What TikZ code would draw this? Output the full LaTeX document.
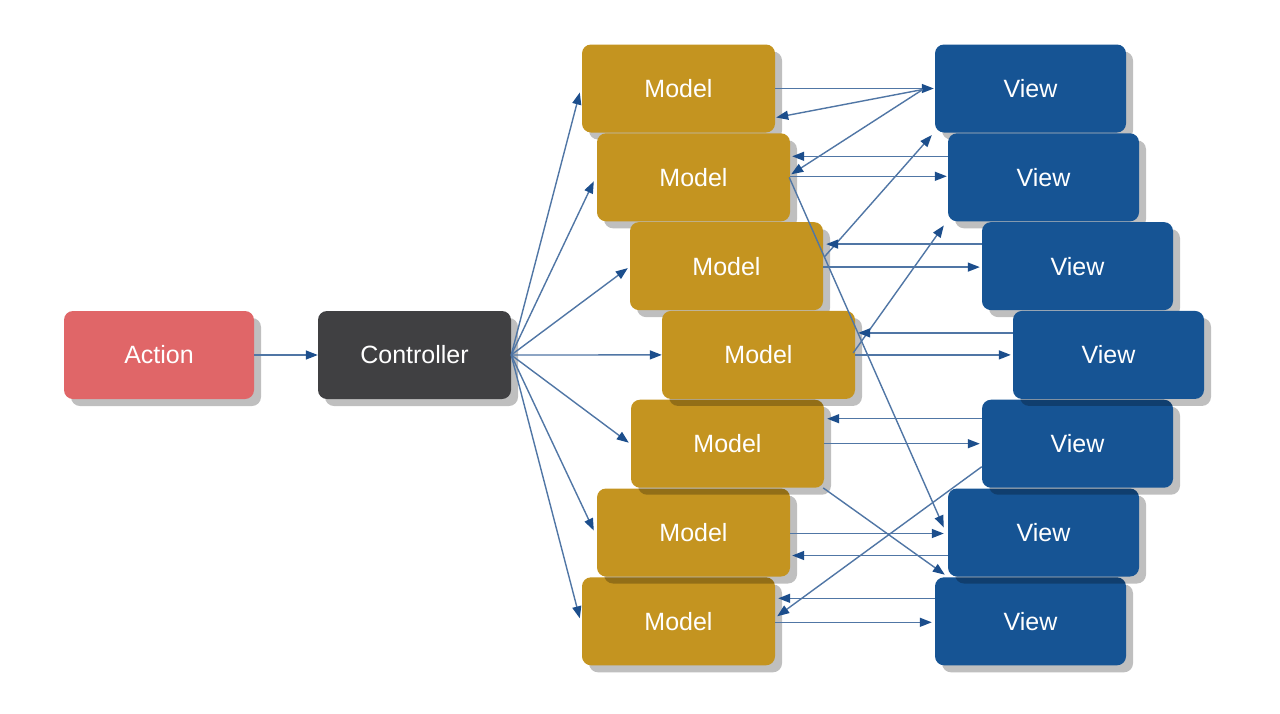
\documentclass[tikz,border=0pt]{standalone}
\usepackage{fontspec}
\setmainfont{Liberation Sans}
\usetikzlibrary{arrows.meta,shadows,calc}
\definecolor{actioncol}{RGB}{224,102,104}
\definecolor{ctrlcol}{RGB}{64,64,66}
\definecolor{modelcol}{RGB}{196,148,32}
\definecolor{viewcol}{RGB}{22,84,148}
\definecolor{linecol}{RGB}{80,118,165}
\definecolor{tipcol}{RGB}{28,78,140}
\begin{document}
\begin{tikzpicture}[x=1pt,y=-1pt,
  box/.style={rectangle, rounded corners=9pt, minimum width=193pt, minimum height=88pt,
    inner sep=0pt, text=white, font=\fontsize{25}{30}\selectfont,
    drop shadow={shadow xshift=7pt, shadow yshift=-7pt, fill=black, opacity=0.25}},
  actionbox/.style={box, fill=actioncol, minimum width=190pt},
  ctrlbox/.style={box, fill=ctrlcol},
  modelbox/.style={box, fill=modelcol},
  viewbox/.style={box, fill=viewcol, minimum width=191pt},
  conn/.style={draw=linecol, line width=1.4pt,
    -{Triangle[length=12pt,width=9pt,color=tipcol]}}
]
\useasboundingbox[fill=white] (0,0) rectangle (1280,713);

% left boxes
\node[actionbox] (A) at (159,355) {Action};
\node[ctrlbox] (C) at (414.5,355) {Controller};

% models (drawing order gives the overlapping shadows)
\node[modelbox] (M1) at (678.5,88.5) {Model};
\node[modelbox] (M2) at (693.5,177.3) {Model};
\node[modelbox] (M3) at (726.5,266.1) {Model};
\node[modelbox] (M7) at (678.5,621.3) {Model};
\node[modelbox] (M6) at (693.5,532.5) {Model};
\node[modelbox] (M5) at (727.5,443.7) {Model};
\node[modelbox] (M4) at (758.5,354.9) {Model};

% views
\node[viewbox] (V1) at (1030.5,88.5) {View};
\node[viewbox] (V2) at (1043.5,177.3) {View};
\node[viewbox] (V3) at (1077.5,266.1) {View};
\node[viewbox] (V7) at (1030.5,621.3) {View};
\node[viewbox] (V6) at (1043.5,532.5) {View};
\node[viewbox] (V5) at (1077.5,443.7) {View};
\node[viewbox] (V4) at (1108.5,354.9) {View};

% action -> controller
\draw[conn] (A.east) -- (C.west);

% controller fan
\draw[conn] (C.east) -- ($(M1.west)+(-2,4)$);
\draw[conn] (C.east) -- ($(M2.west)+(-3,4)$);
\draw[conn] (C.east) -- ($(M3.west)+(-2,2)$);
\draw[conn] (C.east) -- (M4.west);
\draw[conn] (C.east) -- ($(M5.west)+(-2,-1)$);
\draw[conn] (C.east) -- ($(M6.west)+(-3,-2)$);
\draw[conn] (C.east) -- ($(M7.west)+(-2,-3)$);

% row 1
\coordinate (v1p) at ($(V1.west)+(-12,0)$);
\draw[conn] (M1.east) -- ($(V1.west)+(-1,0)$);
\draw[conn] ($(v1p)+(0,1)$) -- ($(M1.east)+(1,29)$);
\draw[conn] ($(v1p)+(0,1)$) -- ($(M2.east)+(1,-3)$);

% row 2
\draw[conn] ($(V2.west)+(0,-21)$) -- ($(M2.east)+(2,-21)$);
\draw[conn] ($(M2.east)+(0,-1)$) -- ($(V2.west)+(-1,-1)$);
\draw[conn] ($(M2.east)+(-1,0)$) -- ($(V6.west)+(-4,-5)$);
\draw[conn] ($(M3.east)+(1,-9)$) -- ($(V2.north west)+(-16,2)$);

% row 3
\draw[conn] ($(V3.west)+(0,-22)$) -- ($(M3.east)+(3,-22)$);
\draw[conn] ($(M3.east)+(0,1)$) -- ($(V3.west)+(-2,1)$);
\draw[conn] ($(M4.east)+(-2,-2)$) -- ($(V2.south west)+(-4,4)$);

% row 4
\draw[conn] ($(V4.west)+(0,-22)$) -- ($(M4.east)+(3,-22)$);
\draw[conn] ($(M4.east)+(0,0)$) -- ($(V4.west)+(-2,0)$);

% row 5
\draw[conn] ($(V5.west)+(0,-25)$) -- ($(M5.east)+(3,-25)$);
\draw[conn] (M5.east) -- ($(V5.west)+(-2,0)$);
\draw[conn] ($(M5.south east)+(-1,0)$) -- ($(V6.south west)+(-3,-2)$);
\draw[conn] ($(V5.west)+(0,23)$) -- ($(M7.east)+(2,-5)$);

% row 6
\draw[conn] ($(M6.east)+(0,1)$) -- ($(V6.west)+(-4,1)$);
\draw[conn] ($(V6.west)+(0,23)$) -- ($(M6.east)+(2,23)$);

% row 7
\draw[conn] ($(V7.west)+(0,-23)$) -- ($(M7.east)+(3,-23)$);
\draw[conn] ($(M7.east)+(0,1)$) -- ($(V7.west)+(-3,1)$);
\end{tikzpicture}
\end{document}
